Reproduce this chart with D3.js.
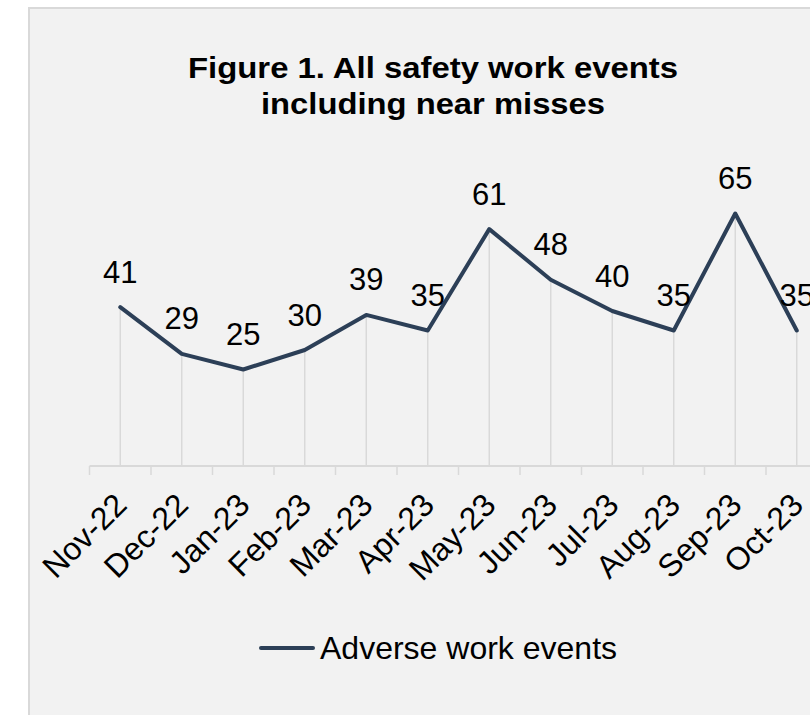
<!DOCTYPE html>
<html>
<head>
<meta charset="utf-8">
<script src="https://cdn.jsdelivr.net/npm/d3@7"></script>
<style>
  html, body { margin: 0; padding: 0; background: #ffffff; }
  svg { display: block; font-family: "Liberation Sans", Arial, sans-serif; }
</style>
</head>
<body>
<svg id="chart" width="810" height="715"></svg>
<script>
// Monthly counts of adverse work events (including near misses)
const months = ["Nov-22", "Dec-22", "Jan-23", "Feb-23", "Mar-23", "Apr-23",
                "May-23", "Jun-23", "Jul-23", "Aug-23", "Sep-23", "Oct-23"];
const events = [41, 29, 25, 30, 39, 35, 61, 48, 40, 35, 65, 35];
const seriesName = "Adverse work events";
const titleLines = ["Figure 1. All safety work events", "including near misses"];

const svg = d3.select("#chart");
const lineColor = "#2c3f57";
const gridColor = "#d9d9d9";

// chart panel
svg.append("rect")
  .attr("x", 29).attr("y", 8)
  .attr("width", 820).attr("height", 730)
  .attr("fill", "#f2f2f2")
  .attr("stroke", gridColor)
  .attr("stroke-width", 2);

// title
const titleWidths = [490, 344];
svg.append("g").selectAll("text")
  .data(titleLines)
  .join("text")
  .attr("x", 433)
  .attr("y", (d, i) => 78 + i * 36)
  .attr("text-anchor", "middle")
  .attr("font-size", 30)
  .attr("font-weight", "bold")
  .attr("fill", "#000")
  .attr("textLength", (d, i) => titleWidths[i])
  .attr("lengthAdjust", "spacingAndGlyphs")
  .text(d => d);

// scales
const x = d3.scaleBand().domain(months).range([89.5, 89.5 + 61.5 * months.length]).padding(0);
const cx = d => x(d) + x.bandwidth() / 2;
const y = d3.scaleLinear().domain([0, 100]).range([467, 77]);
const axisY = y(0) - 1;

// drop lines from each point to the axis
svg.append("g").selectAll("line")
  .data(months)
  .join("line")
  .attr("x1", d => cx(d)).attr("x2", d => cx(d))
  .attr("y1", (d, i) => y(events[i]))
  .attr("y2", axisY)
  .attr("stroke", gridColor)
  .attr("stroke-width", 1.5);

// category axis with ticks between categories
const axisG = svg.append("g");
axisG.append("line")
  .attr("x1", x.range()[0]).attr("x2", x.range()[1])
  .attr("y1", axisY).attr("y2", axisY)
  .attr("stroke", gridColor).attr("stroke-width", 2);
axisG.selectAll("line.tick")
  .data(months)
  .join("line")
  .attr("class", "tick")
  .attr("x1", d => x(d)).attr("x2", d => x(d))
  .attr("y1", axisY).attr("y2", axisY + 9)
  .attr("stroke", gridColor).attr("stroke-width", 1.5);
axisG.selectAll("text")
  .data(months)
  .join("text")
  .attr("transform", d => `translate(${cx(d) + 0.5},${axisY + 33}) rotate(-45)`)
  .attr("text-anchor", "end")
  .attr("dy", "0.35em")
  .attr("font-size", 32)
  .attr("fill", "#000")
  .text(d => d);

// series line
const line = d3.line()
  .x((d, i) => cx(months[i]))
  .y(d => y(d));
svg.append("path")
  .datum(events)
  .attr("d", line)
  .attr("fill", "none")
  .attr("stroke", lineColor)
  .attr("stroke-width", 4)
  .attr("stroke-linejoin", "round")
  .attr("stroke-linecap", "round");

// value labels
svg.append("g").selectAll("text")
  .data(events)
  .join("text")
  .attr("x", (d, i) => cx(months[i]))
  .attr("y", d => y(d) - 24.5)
  .attr("text-anchor", "middle")
  .attr("font-size", 31)
  .attr("fill", "#000")
  .text(d => d);

// legend
const legend = svg.append("g").attr("transform", "translate(260,648)");
legend.append("line")
  .attr("x1", 1).attr("x2", 53)
  .attr("y1", 0).attr("y2", 0)
  .attr("stroke", lineColor)
  .attr("stroke-width", 4)
  .attr("stroke-linecap", "round");
legend.append("text")
  .attr("x", 60).attr("y", 11)
  .attr("font-size", 32)
  .attr("fill", "#000")
  .text(seriesName);
</script>
</body>
</html>
